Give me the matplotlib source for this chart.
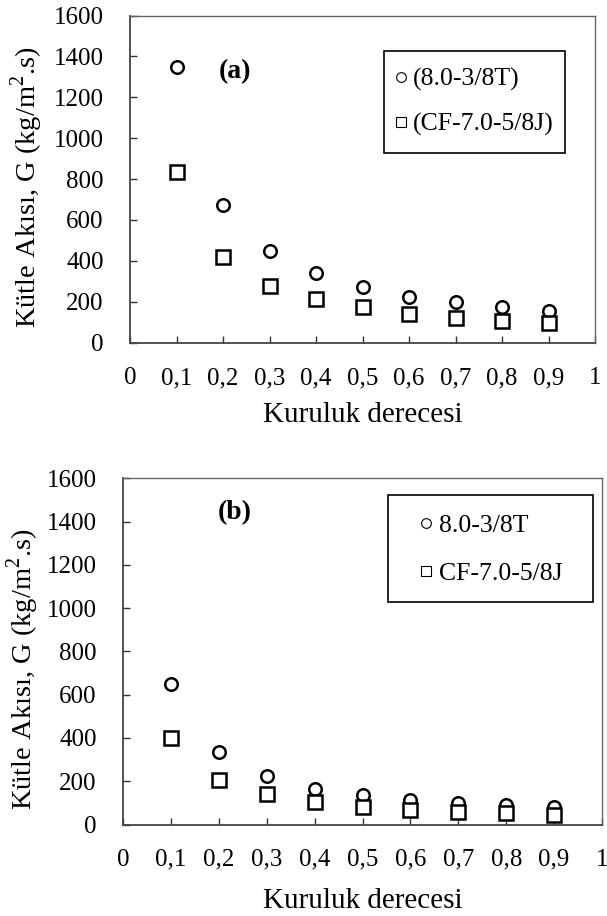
import matplotlib
matplotlib.use("Agg")
import matplotlib.pyplot as plt
from matplotlib.lines import Line2D
from matplotlib.patches import Rectangle

plt.rcParams['font.family'] = ['Liberation Serif', 'DejaVu Serif']
plt.rcParams['mathtext.fontset'] = 'custom'
plt.rcParams['mathtext.rm'] = 'Liberation Serif'

x = [0.1, 0.2, 0.3, 0.4, 0.5, 0.6, 0.7, 0.8, 0.9]
a_circ = [1350, 675, 450, 342, 271, 225, 200, 173, 155]
a_sq = [833, 420, 277, 212, 173, 140, 119, 108, 95]
b_circ = [650, 333, 223, 164, 137, 114, 98, 91, 82]
b_sq = [400, 205, 141, 106, 83, 67, 59, 52, 43]

xticks = [0, 0.1, 0.2, 0.3, 0.4, 0.5, 0.6, 0.7, 0.8, 0.9, 1]
xticklabels = ["0", "0,1", "0,2", "0,3", "0,4", "0,5", "0,6", "0,7", "0,8", "0,9", "1"]
yticks = [0, 200, 400, 600, 800, 1000, 1200, 1400, 1600]

W, H = 607, 916
panels = [
    dict(circ=a_circ, sq=a_sq, tag="(a)", labels=["(8.0-3/8T)", "(CF-7.0-5/8J)"],
         box=(130, 595, 15.5, 342.7), tagpx=(235, 71.7),
         ylabpx=(27, 187), xlabpx=(362.5, 422.5),
         legbox=(384.3, 565, 51, 153.3), legleft=396, legmid=102,
         legfs=18.5, legsp=0.82, legpad=0.25),
    dict(circ=b_circ, sq=b_sq, tag="(b)", labels=["8.0-3/8T", "CF-7.0-5/8J"],
         box=(123, 602, 478.3, 824.5), tagpx=(235, 513),
         ylabpx=(23, 669), xlabpx=(362.5, 908),
         legbox=(388.3, 593.3, 495, 601.7), legleft=421, legmid=549.5,
         legfs=18.5, legsp=0.95, legpad=0.3),
]

fig = plt.figure(figsize=(W / 100, H / 100), dpi=100)
FS = 18
for p in panels:
    l, r, t, b = p["box"]
    ax = fig.add_axes([l / W, 1 - b / H, (r - l) / W, (b - t) / H])

    def fx(px, l=l, r=r):
        return (px - l) / (r - l)

    def fy(py, t=t, b=b):
        return (b - py) / (b - t)

    ax.plot(x, p["circ"], linestyle='none', marker='o', ms=9, mfc='white',
            mec='black', mew=1.8, zorder=3)
    ax.plot(x, p["sq"], linestyle='none', marker='s', ms=9.5, mfc='white',
            mec='black', mew=1.8, zorder=3)
    ax.set_xlim(0, 1)
    ax.set_ylim(0, 1600)
    ax.set_xticks(xticks)
    ax.set_xticklabels(xticklabels)
    ax.set_yticks(yticks)
    ax.tick_params(direction='in', length=5, width=1, colors='#333333',
                   labelcolor='black', labelsize=FS)
    ax.tick_params(axis='x', pad=17.5)
    ax.tick_params(axis='y', pad=19)
    for s in ['left', 'bottom']:
        ax.spines[s].set_color('#444444')
        ax.spines[s].set_linewidth(1.3)
    for s in ['top', 'right']:
        ax.spines[s].set_color('#666666')
        ax.spines[s].set_linewidth(1.0)

    ax.set_ylabel("Kütle Akısı, G (kg/m$^2$.s)", fontsize=20.5)
    ax.yaxis.set_label_coords(fx(p["ylabpx"][0]), fy(p["ylabpx"][1]))
    ax.yaxis.label.set_va('center')
    ax.set_xlabel("Kuruluk derecesi", fontsize=21)
    ax.xaxis.set_label_coords(fx(p["xlabpx"][0]), fy(p["xlabpx"][1]))
    ax.xaxis.label.set_va('baseline')

    ax.text(fx(p["tagpx"][0]), fy(p["tagpx"][1]), p["tag"], transform=ax.transAxes,
            fontsize=20, fontweight='bold', ha='center', va='center')

    bl, br, bt, bb = p["legbox"]
    ax.add_patch(Rectangle((fx(bl), fy(bb)), fx(br) - fx(bl), fy(bt) - fy(bb),
                           transform=ax.transAxes, fill=False, edgecolor='black',
                           linewidth=1.2, clip_on=False, zorder=4))
    handles = [Line2D([], [], linestyle='none', marker='o', ms=7, mfc='white', mec='black', mew=0.8),
               Line2D([], [], linestyle='none', marker='s', ms=7, mfc='white', mec='black', mew=0.8)]
    ax.legend(handles, p["labels"], loc='center left',
              bbox_to_anchor=(fx(p["legleft"]), fy(p["legmid"])),
              frameon=False, fontsize=p["legfs"], handlelength=0.4,
              handletextpad=p["legpad"], labelspacing=p["legsp"],
              borderpad=0, borderaxespad=0)

fig.savefig("out.png", dpi=100)
